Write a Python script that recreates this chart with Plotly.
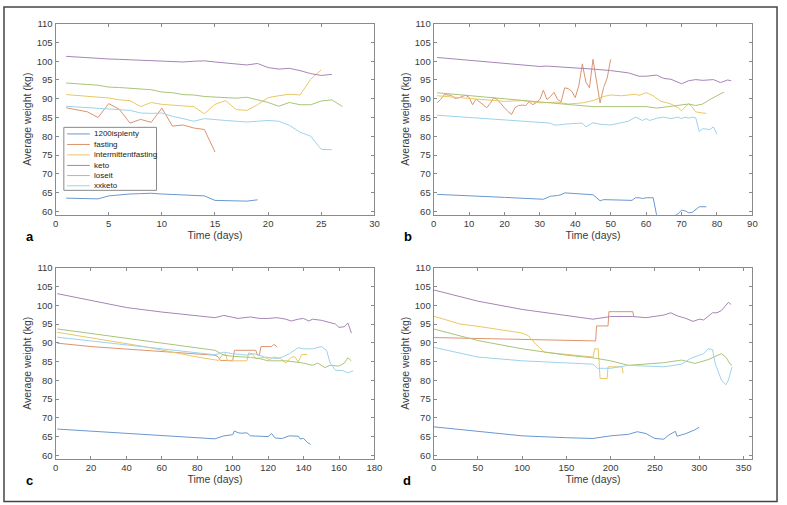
import plotly.graph_objects as go

W, H = 787, 505

names = ["1200isplenty", "fasting", "intermittentfasting", "keto", "loseit", "xxketo"]
colors = ["#6a98d0", "#dc9470", "#e8c865", "#a585b5", "#a9c47a", "#9dd2ec"]

# -------------------------------
# Panel a (days 1..n)
# -------------------------------
a_1200 = [63.5, 63.4, 63.35, 63.3, 64.1, 64.45, 64.6, 64.7, 64.8, 64.6, 64.5, 64.4, 64.3,
          64.1, 62.9, 62.9, 62.8, 62.7, 63.05]
a_fasting = [87.6, 87.1, 86.5, 85.0, 88.7, 87.2, 83.5, 84.5, 83.7, 87.5, 82.7, 83.0, 82.2,
             81.8, 75.8]
a_if = [91.1, 90.9, 90.6, 90.5, 90.2, 89.7, 89.5, 87.9, 89.0, 88.5, 88.2, 88.1, 87.9, 86.0,
        88.5, 89.5, 87.1, 86.9, 88.4, 90.3, 90.8, 91.2, 91.0, 95.2, 97.7]
a_keto = [101.3, 101.1, 100.9, 100.6, 100.6, 100.5, 100.4, 100.3, 100.1, 100.1, 100.0, 99.8,
          100.0, 100.1, 99.8, 99.5, 99.2, 99.0, 99.4, 98.3, 97.9, 98.1, 97.5, 96.7, 96.2, 96.5]
a_loseit = [94.2, 93.9, 93.8, 93.6, 93.1, 93.0, 92.8, 92.5, 92.4, 91.8, 91.6, 91.1, 91.0, 90.6,
            90.5, 90.4, 90.15, 90.4, 89.7, 89.0, 88.0, 89.0, 88.4, 88.4, 89.4, 89.7, 87.9]
a_xxketo = [88.0, 87.8, 87.5, 87.3, 87.1, 86.9, 86.9, 86.2, 86.1, 86.2, 85.3, 84.7, 84.0, 84.7,
            84.4, 84.2, 84.0, 83.8, 84.0, 84.2, 84.0, 82.9, 81.1, 80.0, 76.5, 76.4]

# -------------------------------
# Panel b
# -------------------------------
b_1200_d = [1, 10, 20, 31, 33, 35, 36, 37, 45, 47, 48, 56, 57, 58, 59, 60, 62, 63, 68, 69,
            70, 71, 72, 73, 74, 75, 77]
b_1200_w = [64.5, 64.2, 63.7, 63.2, 64.0, 64.2, 64.4, 64.9, 64.4, 62.8, 63.1, 62.9, 63.6, 63.6,
            63.4, 63.6, 63.6, 58.8, 58.8, 59.3, 60.3, 60.1, 59.6, 59.7, 60.4, 61.2, 61.2]
b_fasting_d = list(range(1, 51))
b_fasting_w = [88.9, 89.8, 91.1, 90.9, 90.9, 90.1, 90.2, 90.6, 90.9, 90.4, 88.4, 89.9, 89.2,
               88.3, 87.6, 88.8, 90.3, 89.8, 88.6, 87.6, 86.6, 85.8, 87.6, 88.2, 88.3, 88.2,
               89.2, 88.4, 89.0, 89.8, 92.3, 89.8, 90.6, 91.7, 89.8, 89.2, 92.9, 92.7, 92.0,
               90.3, 93.5, 99.3, 94.4, 92.9, 100.5, 94.5, 88.9, 93.0, 95.5, 100.5]
b_if_d = [1, 10, 20, 25, 30, 35, 38, 42, 45, 48, 50, 53, 55, 57, 58, 60, 62, 64, 67, 69, 70,
          72, 73, 74, 76, 77]
b_if_w = [90.8, 90.0, 89.3, 89.5, 88.9, 89.1, 88.6, 88.9, 89.5, 90.6, 91.0, 90.8, 91.0, 91.2,
          90.9, 91.6, 90.8, 89.4, 88.6, 87.6, 86.8, 88.7, 87.8, 86.5, 86.2, 86.1]
b_keto_d = [1, 10, 20, 30, 32, 40, 45, 50, 53, 55, 58, 60, 63, 65, 67, 70, 72, 74, 76, 78, 79,
            81, 83, 84]
b_keto_w = [101.0, 100.3, 99.4, 98.6, 98.7, 98.3, 97.9, 97.5, 97.2, 96.9, 96.0, 96.0, 96.3,
            95.4, 95.2, 94.0, 94.8, 95.1, 94.9, 94.9, 95.1, 94.3, 95.0, 94.8]
b_loseit_d = [1, 10, 20, 30, 40, 45, 50, 55, 60, 63, 66, 70, 72, 74, 76, 78, 80, 82]
b_loseit_w = [91.6, 90.8, 89.9, 89.0, 88.3, 87.9, 87.9, 87.8, 87.9, 87.5, 87.9, 88.3, 88.6,
              88.2, 88.6, 89.8, 90.7, 91.8]
b_xx_d = [1, 10, 20, 30, 33, 34, 35, 38, 40, 42, 43, 44, 45, 47, 50, 53, 55, 57, 58, 59, 60,
          61, 63, 65, 67, 69, 70, 71, 72, 73, 74, 75, 76, 77, 78, 79, 80]
b_xx_w = [85.6, 85.0, 84.3, 83.6, 83.5, 83.0, 83.0, 83.3, 83.4, 83.5, 82.5, 83.0, 83.6, 83.2,
          83.0, 83.6, 84.0, 85.1, 84.7, 84.2, 84.7, 84.2, 84.8, 85.1, 84.7, 85.1, 84.7, 85.1,
          84.8, 85.1, 84.9, 81.3, 82.0, 82.0, 81.8, 82.5, 80.5]

# -------------------------------
# Panel c
# -------------------------------
c_1200_d = [1, 90, 95, 100, 101, 103, 105, 108, 110, 120, 122, 124, 128, 132, 137, 138, 140,
            142, 144]
c_1200_w = [67.0, 64.4, 65.2, 65.5, 66.5, 66.0, 65.9, 66.0, 65.2, 65.0, 65.8, 64.6, 64.5, 65.2,
            65.1, 64.4, 64.5, 63.5, 62.9]
c_fasting_d = [1, 20, 50, 80, 90, 92, 93, 100, 101, 113, 114, 115, 116, 122, 123, 124, 125]
c_fasting_w = [89.9, 89.0, 88.0, 86.9, 86.7, 86.2, 85.3, 85.3, 88.0, 88.0, 86.7, 86.7, 89.0,
               89.0, 89.5, 89.4, 88.8]
c_if_d = [1, 50, 80, 90, 92, 94, 96, 97, 108, 109, 111, 113, 118, 121, 123, 127, 130, 133,
          135, 137, 139, 142]
c_if_w = [92.8, 89.0, 86.2, 85.3, 85.3, 86.7, 87.1, 85.2, 85.2, 87.3, 87.1, 85.8, 86.1, 85.5,
          86.2, 85.8, 84.6, 86.1, 86.3, 84.9, 86.9, 86.9]
c_keto_d = [1, 20, 40, 60, 80, 90, 95, 100, 103, 110, 115, 120, 125, 130, 133, 137, 140, 143,
            145, 150, 154, 158, 160, 163, 165, 166, 167]
c_keto_w = [103.1, 101.3, 99.4, 98.2, 97.1, 96.7, 97.3, 96.9, 96.5, 96.9, 96.5, 96.5, 96.7,
            96.3, 95.8, 96.3, 96.5, 95.8, 96.3, 96.0, 95.6, 95.0, 94.1, 94.3, 95.3, 94.2, 92.6]
c_loseit_d = [1, 90, 95, 100, 110, 115, 120, 130, 140, 145, 148, 152, 155, 160, 163, 165, 167]
c_loseit_w = [93.7, 88.0, 86.7, 86.4, 86.1, 85.8, 85.2, 85.2, 84.6, 84.0, 84.6, 83.4, 84.0,
              83.8, 84.6, 86.0, 85.2]
c_xx_d = [1, 90, 95, 100, 108, 112, 118, 125, 128, 132, 137, 140, 145, 150, 153, 155, 158, 162,
          165, 168]
c_xx_w = [91.5, 86.8, 87.5, 87.1, 86.7, 87.1, 86.2, 85.8, 86.2, 87.1, 88.7, 88.4, 88.4, 89.0,
          88.0, 84.6, 82.7, 82.6, 82.0, 82.5]

# -------------------------------
# Panel d
# -------------------------------
d_1200_d = [0, 50, 100, 150, 180, 200, 210, 220, 230, 240, 245, 250, 260, 265, 273, 275, 285,
            290, 295, 300]
d_1200_w = [67.6, 66.3, 65.2, 64.7, 64.5, 65.2, 65.4, 65.6, 66.3, 65.8, 65.1, 64.5, 64.3, 65.3,
            66.4, 65.1, 65.8, 66.2, 66.8, 67.5]
d_fasting_d = [0, 183, 184, 197, 198, 225, 226]
d_fasting_w = [91.4, 90.5, 94.5, 94.5, 98.3, 98.3, 96.9]
d_if_d = [0, 30, 50, 80, 100, 107, 115, 125, 150, 180, 182, 186, 188, 196, 197, 213, 214]
d_if_w = [97.1, 95.0, 94.4, 93.2, 92.6, 91.9, 89.7, 87.5, 86.9, 86.2, 88.4, 88.4, 80.5, 80.5,
          83.6, 83.6, 81.9]
d_keto_d = [0, 50, 100, 150, 180, 200, 225, 240, 250, 260, 268, 275, 285, 293, 300, 305, 315,
            320, 325, 330, 333, 336]
d_keto_w = [104.1, 101.1, 98.9, 97.2, 96.3, 97.0, 97.0, 96.7, 97.0, 97.4, 98.0, 97.2, 96.5,
            95.7, 96.3, 96.1, 98.0, 98.0, 98.6, 99.8, 100.8, 100.2]
d_loseit_d = [0, 50, 100, 125, 150, 180, 200, 220, 240, 260, 280, 295, 310, 320, 325, 330, 335,
              337]
d_loseit_w = [93.7, 90.6, 88.4, 87.5, 86.7, 86.0, 85.2, 84.0, 84.3, 84.7, 85.4, 84.5, 85.5,
              86.7, 87.1, 86.2, 84.3, 84.0]
d_xx_d = [0, 50, 100, 150, 180, 185, 200, 220, 240, 260, 280, 290, 300, 305, 310, 315, 318, 322,
          325, 330, 333, 336, 337]
d_xx_w = [88.8, 86.2, 85.2, 84.6, 84.3, 83.2, 83.2, 84.0, 83.8, 83.6, 84.3, 85.8, 86.7, 87.1,
          88.4, 88.2, 84.5, 81.9, 80.1, 78.8, 80.1, 82.7, 83.6]

x_ranges = [[0, 30], [0, 90], [0, 180], [0, 360]]
x_dticks = [5, 10, 20, 50]
y_range = [59.1, 110]


def days(vals):
    return list(range(1, len(vals) + 1))


panel_series = [
    [(days(a_1200), a_1200), (days(a_fasting), a_fasting), (days(a_if), a_if),
     (days(a_keto), a_keto), (days(a_loseit), a_loseit), (days(a_xxketo), a_xxketo)],
    [(b_1200_d, b_1200_w), (b_fasting_d, b_fasting_w), (b_if_d, b_if_w),
     (b_keto_d, b_keto_w), (b_loseit_d, b_loseit_w), (b_xx_d, b_xx_w)],
    [(c_1200_d, c_1200_w), (c_fasting_d, c_fasting_w), (c_if_d, c_if_w),
     (c_keto_d, c_keto_w), (c_loseit_d, c_loseit_w), (c_xx_d, c_xx_w)],
    [(d_1200_d, d_1200_w), (d_fasting_d, d_fasting_w), (d_if_d, d_if_w),
     (d_keto_d, d_keto_w), (d_loseit_d, d_loseit_w), (d_xx_d, d_xx_w)],
]


def px(x):
    return x / W


def py(y):
    return 1 - y / H


# pixel boxes of the four axes (left, right, top, bottom)
boxes = [(53.3, 376.7, 18, 212), (436.7, 760, 18, 212),
         (53.3, 376.7, 266, 460), (436.7, 760, 266, 460)]
letters = ["a", "b", "c", "d"]
letter_pos = [(27, 234), (411, 234), (27, 482), (410, 482)]

FONT = "Liberation Sans, Arial, sans-serif"
AXC = "#8a8a8a"
TXT = "#3a3a3a"

fig = go.Figure()
layout = {}

for i, series in enumerate(panel_series):
    k = "" if i == 0 else str(i + 1)
    for j, (xs, ys) in enumerate(series):
        fig.add_trace(
            go.Scatter(
                x=xs, y=ys, mode="lines", name=names[j],
                line=dict(color=colors[j], width=1),
                xaxis="x" + k, yaxis="y" + k, showlegend=False,
            )
        )
    l, r, t, b = boxes[i]
    common = dict(
        showline=True, linecolor=AXC, linewidth=1, mirror="ticks",
        ticks="inside", ticklen=3, tickcolor=AXC, tickwidth=1,
        showgrid=False, zeroline=False,
        tickfont=dict(family=FONT, size=9.5, color=TXT),
    )
    layout["xaxis" + k] = dict(
        common, domain=[px(l), px(r)], range=x_ranges[i], dtick=x_dticks[i], tick0=0,
        anchor="y" + k,
        title=dict(text="Time (days)", font=dict(family=FONT, size=10.5, color=TXT), standoff=3),
    )
    layout["yaxis" + k] = dict(
        common, domain=[py(b), py(t)], range=y_range, dtick=5, tick0=60,
        anchor="x" + k,
        title=dict(text="Average weight (kg)", font=dict(family=FONT, size=10.5, color=TXT),
                   standoff=3),
    )

annotations = []
for i, (lx, ly) in enumerate(letter_pos):
    annotations.append(dict(
        text="<b>" + letters[i] + "</b>", x=px(lx), y=py(ly), xref="paper", yref="paper",
        xanchor="center", yanchor="middle",
        showarrow=False, font=dict(family=FONT, size=13, color="black"),
    ))

# legend of panel a
shapes = [dict(type="rect", xref="paper", yref="paper", x0=px(61.7), x1=px(155.7),
               y0=py(187.3), y1=py(123.3), line=dict(color=AXC, width=1), fillcolor="white",
               layer="above")]
row_y = [130, 140.7, 151.3, 162, 172.3, 182.7]
for j, nm in enumerate(names):
    shapes.append(dict(type="line", xref="paper", yref="paper", x0=px(65), x1=px(88),
                       y0=py(row_y[j]), y1=py(row_y[j]),
                       line=dict(color=colors[j], width=1), layer="above"))
    annotations.append(dict(
        text=nm, x=px(90.5), y=py(row_y[j]), xref="paper", yref="paper", xanchor="left",
        yanchor="middle", showarrow=False, font=dict(family=FONT, size=8, color="#222222"),
    ))

# outer frame
shapes.append(dict(type="rect", xref="paper", yref="paper", x0=px(1), x1=px(785),
                   y0=py(503.5), y1=py(1), line=dict(color="#444444", width=1.5)))

fig.update_layout(
    **layout,
    width=W, height=H,
    margin=dict(l=0, r=0, t=0, b=0),
    paper_bgcolor="white", plot_bgcolor="white",
    annotations=annotations, shapes=shapes,
    showlegend=False,
)

fig.write_html(
    "out.html",
    config={"displayModeBar": False},
    post_script="document.body.style.margin='0';document.body.style.overflow='hidden';",
)
